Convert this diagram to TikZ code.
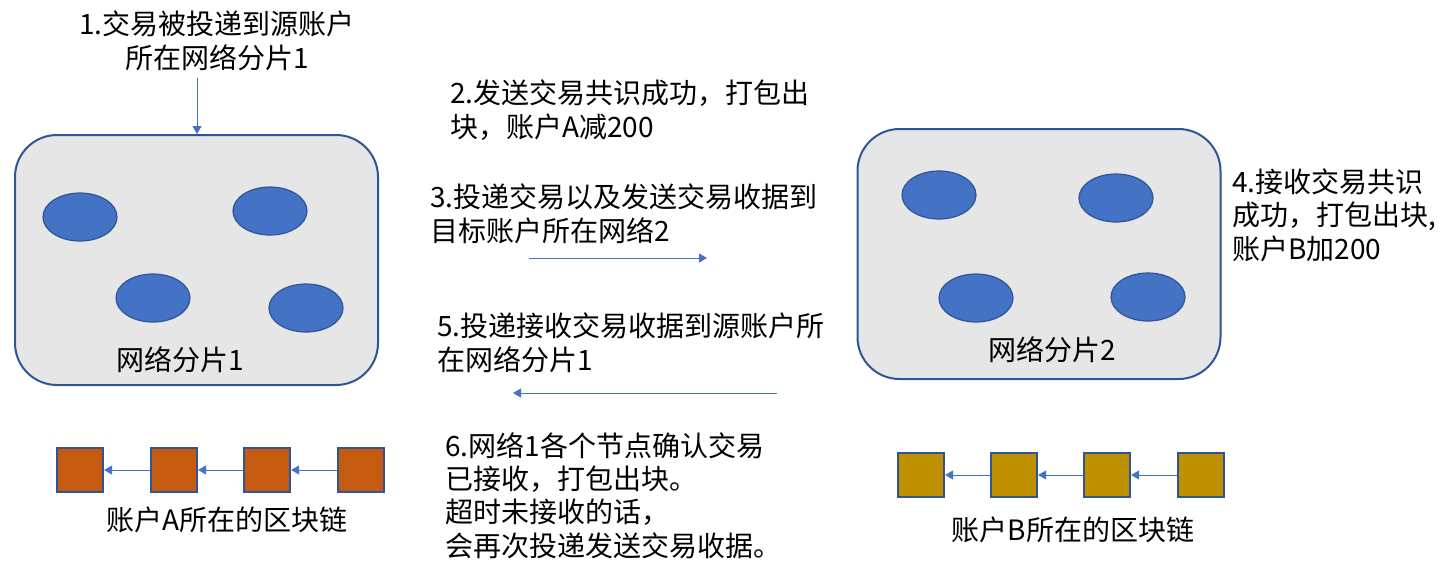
\documentclass[tikz,border=0pt]{standalone}
\usepackage{fontspec}
\newfontfamily\cjk{Noto Sans CJK SC}
\usetikzlibrary{shapes.geometric,arrows.meta}
\definecolor{boxfill}{HTML}{E6E6E6}
\definecolor{boxline}{HTML}{2F5597}
\definecolor{nodefill}{HTML}{4472C4}
\definecolor{blkA}{HTML}{C55A11}
\definecolor{blkB}{HTML}{BF9000}
\definecolor{arrowc}{HTML}{4472C4}
\tikzset{
  shard/.style={draw=boxline, line width=1pt, fill=boxfill, rounded corners=21pt, rectangle, minimum width=181.5pt, minimum height=125pt, inner sep=0pt},
  peer/.style={draw=boxline, line width=0.6pt, fill=nodefill, ellipse, minimum width=37pt, minimum height=24pt, inner sep=0pt},
  blockA/.style={draw=boxline, line width=1.1pt, fill=blkA, rectangle, minimum width=23pt, minimum height=22pt, inner sep=0pt},
  blockB/.style={draw=boxline, line width=1.1pt, fill=blkB, rectangle, minimum width=23pt, minimum height=22pt, inner sep=0pt},
  arr/.style={draw=arrowc, line width=0.5pt, -{Triangle[width=4.5pt,length=4pt]}},
  txt/.style={font=\cjk\fontsize{14}{16.6}\selectfont, inner sep=0pt, text=black},
}
\begin{document}
\begin{tikzpicture}[x=0.5pt,y=-0.5pt]
\useasboundingbox (0,0) rectangle (1442,570);
% shards
\node[shard] (shard1) at (196.5,260) {};
\node[shard] (shard2) at (1039,254) {};
\node[peer] (p11) at (80,217) {};
\node[peer] (p12) at (270,211) {};
\node[peer] (p13) at (153,298) {};
\node[peer] (p14) at (306,308) {};
\node[peer] (p21) at (939,195) {};
\node[peer] (p22) at (1116,198) {};
\node[peer] (p23) at (976,298) {};
\node[peer] (p24) at (1148,297) {};
\node[txt] (lab1) at (180,360) {网络分片1};
\node[txt] (lab2) at (1052,350) {网络分片2};
% chain A
\node[blockA] (a1) at (80,470) {};
\node[blockA] (a2) at (174,470) {};
\node[blockA] (a3) at (267,470) {};
\node[blockA] (a4) at (361,470) {};
\draw[arr] (a2) -- (a1);
\draw[arr] (a3) -- (a2);
\draw[arr] (a4) -- (a3);
\node[txt] (chainA) at (227,520) {账户A所在的区块链};
% chain B
\node[blockB] (b1) at (921,475) {};
\node[blockB] (b2) at (1014,475) {};
\node[blockB] (b3) at (1107,475) {};
\node[blockB] (b4) at (1201,475) {};
\draw[arr] (b2) -- (b1);
\draw[arr] (b3) -- (b2);
\draw[arr] (b4) -- (b3);
\node[txt] (chainB) at (1073,530) {账户B所在的区块链};
% texts (base anchor = baseline of last line)
\node[txt, align=center, anchor=base] (t1) at (217,68) {1.交易被投递到源账户\\所在网络分片1};
\node[txt, align=left, anchor=base west] (t2) at (450,137) {2.发送交易共识成功，打包出\\块，账户A减200};
\node[txt, align=left, anchor=base west] (t3) at (430,241) {3.投递交易以及发送交易收据到\\目标账户所在网络2};
\node[txt, align=left, anchor=base west] (t4) at (1232,259) {4.接收交易共识\\成功，打包出块,\\账户B加200};
\node[txt, align=left, anchor=base west] (t5) at (437,370) {5.投递接收交易收据到源账户所\\在网络分片1};
\node[txt, align=left, anchor=base west] (t6) at (445,556) {6.网络1各个节点确认交易\\已接收，打包出块。\\超时未接收的话，\\会再次投递发送交易收据。};
% arrows
\coordinate (a1s) at (197,78);
\draw[arr] (a1s) -- (a1s |- shard1.north);
\coordinate (m3s) at (529,258);
\coordinate (m3e) at (707,258);
\draw[arr] (m3s) -- (m3e);
\coordinate (m5s) at (777,393);
\coordinate (m5e) at (513,393);
\draw[arr] (m5s) -- (m5e);
\end{tikzpicture}
\end{document}
